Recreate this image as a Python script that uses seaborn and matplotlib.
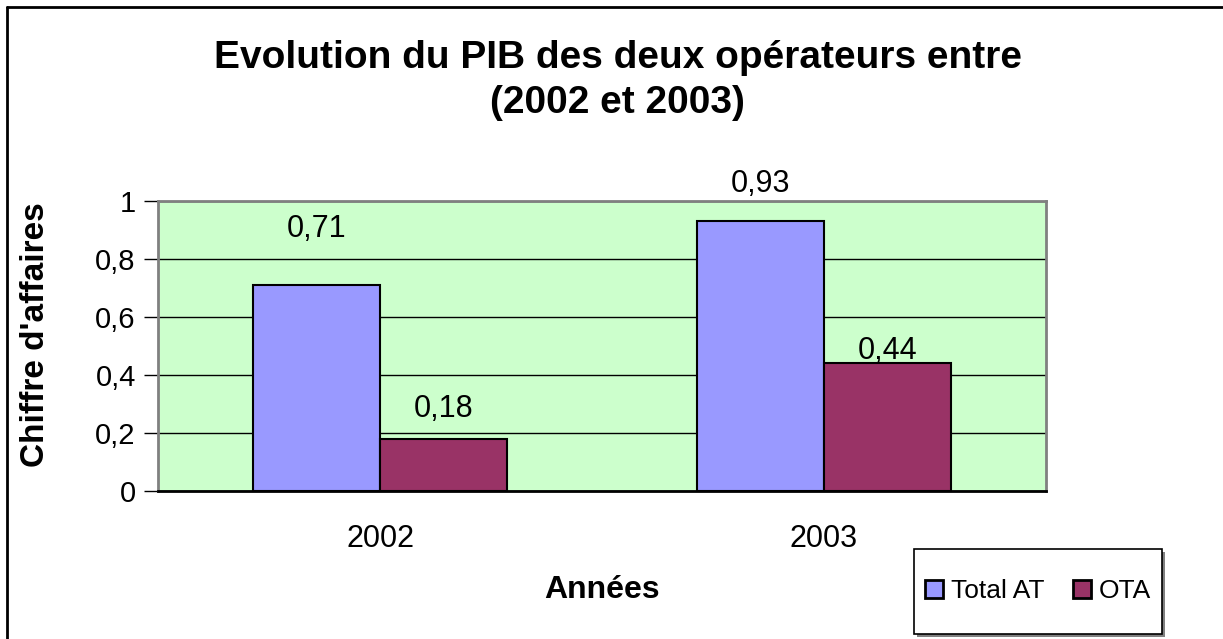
import pandas as pd
import seaborn as sns
import matplotlib.pyplot as plt
from matplotlib.lines import Line2D
from matplotlib.patches import Rectangle, Patch

# Chart values
years = ["2002", "2003"]
total_at = [0.71, 0.93]
ota = [0.18, 0.44]
series = ["Total AT", "OTA"]
y_ticks = [0, 0.2, 0.4, 0.6, 0.8, 1]
y_tick_labels = ["0", "0,2", "0,4", "0,6", "0,8", "1"]

# Where Excel put the value labels (data units, layout only)
label_heights = {"Total AT": [0.903, 1.059], "OTA": [0.283, 0.483]}

df = pd.DataFrame(
    {
        "year": years * 2,
        "value": total_at + ota,
        "series": [series[0]] * len(years) + [series[1]] * len(years),
    }
)

sns.set_theme(style="white")
plt.rcParams["font.family"] = ["Liberation Sans", "DejaVu Sans"]
plt.rcParams["text.color"] = "black"
plt.rcParams["axes.labelcolor"] = "black"
plt.rcParams["xtick.color"] = "black"
plt.rcParams["ytick.color"] = "black"

colors = {"Total AT": "#9999FF", "OTA": "#993366"}

fig = plt.figure(figsize=(12.23, 6.39), dpi=100)
ax = fig.add_axes([0.1292, 0.2316, 0.7261, 0.4538])
ax.set_facecolor("#CCFFCC")

sns.barplot(
    data=df,
    x="year",
    y="value",
    hue="series",
    hue_order=series,
    palette=colors,
    width=0.572,
    gap=0,
    saturation=1,
    edgecolor="black",
    linewidth=1.5,
    legend=False,
    ax=ax,
    zorder=3,
)

ax.set_xlim(-0.5, 1.5)
ax.set_ylim(0, 1)
ax.set_yticks(y_ticks)
ax.set_yticklabels(y_tick_labels, fontsize=21)
ax.yaxis.grid(True, color="black", linewidth=1)
ax.set_axisbelow(True)

# category labels without marks, marks at the category boundaries
ax.set_xticks([0, 1])
ax.set_xticklabels(years, fontsize=22)
ax.set_xticks([-0.5, 0.5, 1.5], minor=True)
ax.tick_params(axis="x", which="major", length=0, pad=24)
ax.tick_params(axis="x", which="minor", length=10, width=1.5, color="#808080", direction="out")
ax.tick_params(axis="y", length=10, width=1, color="black", direction="out", left=True, pad=6)

for side in ["left", "top", "right"]:
    ax.spines[side].set_color("#808080")
    ax.spines[side].set_linewidth(2)
ax.spines["bottom"].set_color("black")
ax.spines["bottom"].set_linewidth(2)

ax.set_xlabel("Années", fontsize=23, fontweight="bold")
ax.set_ylabel("Chiffre d'affaires", fontsize=24, fontweight="bold")
ax.xaxis.set_label_coords(0.5, -0.341)
ax.yaxis.set_label_coords(-0.1385, 0.538)
ax.xaxis.label.set_va("center")
ax.yaxis.label.set_va("center")

# value labels
for name, container in zip(series, ax.containers):
    for bar, h in zip(container, label_heights[name]):
        val = bar.get_height()
        ax.text(
            bar.get_x() + bar.get_width() / 2,
            h,
            f"{val:.2f}".replace(".", ","),
            ha="center",
            va="center",
            fontsize=22,
            clip_on=False,
            zorder=4,
        )

fig.text(
    0.505,
    0.874,
    "Evolution du PIB des deux opérateurs entre\n(2002 et 2003)",
    ha="center",
    va="center",
    fontsize=28,
    fontweight="bold",
    linespacing=1.3,
)

# outer chart border (top and left only visible)
fig.add_artist(Line2D([7 / 1223, 1], [1 - 7 / 639, 1 - 7 / 639], color="black", linewidth=2, transform=fig.transFigure))
fig.add_artist(Line2D([7 / 1223, 7 / 1223], [0, 1 - 7 / 639], color="black", linewidth=2, transform=fig.transFigure))

# legend box with shadow
lx0, ly0, lw, lh = 914 / 1223, 5 / 639, 248 / 1223, 85 / 639
fig.add_artist(Rectangle((lx0 + 3 / 1223, ly0 - 3 / 639), lw, lh, transform=fig.transFigure, facecolor="#808080", edgecolor="none"))
fig.add_artist(Rectangle((lx0, ly0), lw, lh, transform=fig.transFigure, facecolor="white", edgecolor="black", linewidth=1.2))
handles = [Patch(facecolor=colors[s], edgecolor="black", linewidth=2) for s in series]
fig.legend(
    handles,
    series,
    loc="center",
    bbox_to_anchor=(lx0 + lw / 2, ly0 + lh / 2),
    bbox_transform=fig.transFigure,
    ncol=2,
    frameon=False,
    fontsize=19,
    handlelength=0.68,
    handleheight=0.68,
    handletextpad=0.3,
    columnspacing=1.1,
    borderpad=0,
)

fig.savefig("out.png", dpi=100)
